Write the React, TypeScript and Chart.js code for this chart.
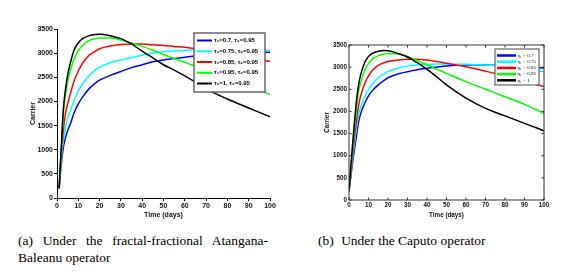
import React, { useEffect, useRef } from "react";
import { Chart, registerables } from "chart.js";

Chart.register(...registerables);

// ---------- Data: (a) fractal-fractional Atangana-Baleanu operator ----------
const abTimes = [1, 2, 3, 4, 5, 6, 8, 10, 12, 15, 18, 20, 25, 30, 35, 40, 45, 50, 55, 60, 65, 70, 80, 90, 100];
const abTau070 = [200, 700, 1050, 1250, 1400, 1500, 1760, 1950, 2090, 2260, 2380, 2440, 2540, 2620, 2700, 2760, 2820, 2860, 2890, 2915, 2940, 2955, 2985, 3005, 3020];
const abTau075 = [200, 800, 1200, 1450, 1650, 1780, 2020, 2220, 2360, 2530, 2650, 2710, 2800, 2860, 2910, 2960, 3000, 3030, 3045, 3055, 3064, 3068, 3070, 3065, 3060];
const abTau085 = [200, 900, 1400, 1750, 1950, 2120, 2420, 2630, 2790, 2950, 3040, 3090, 3150, 3180, 3190, 3190, 3175, 3160, 3140, 3120, 3090, 3050, 2980, 2900, 2830];
const abTau095 = [200, 1000, 1750, 2150, 2420, 2600, 2880, 3050, 3160, 3260, 3300, 3315, 3315, 3270, 3210, 3140, 3060, 2970, 2890, 2810, 2725, 2640, 2470, 2310, 2150];
const abTau100 = [200, 1050, 1850, 2250, 2550, 2750, 3060, 3210, 3300, 3360, 3385, 3390, 3360, 3300, 3190, 3040, 2900, 2760, 2650, 2530, 2400, 2260, 2050, 1865, 1680];
const abLabels = [
  "τ₁=0.7, τ₂=0.95",
  "τ₁=0.75, τ₂=0.95",
  "τ₁=0.85, τ₂=0.95",
  "τ₁=0.95, τ₂=0.95",
  "τ₁=1, τ₂=0.95",
];

// ---------- Data: (b) Caputo operator ----------
const cTimes = [0, 1, 2, 3, 4, 5, 6, 8, 10, 12, 15, 18, 20, 25, 30, 35, 40, 45, 50, 60, 70, 80, 90, 100];
const cEta070 = [200, 550, 900, 1200, 1500, 1780, 1950, 2180, 2350, 2470, 2600, 2700, 2760, 2845, 2897, 2940, 2973, 3000, 3025, 3048, 3048, 3030, 3005, 2980];
const cEta075 = [200, 600, 1000, 1350, 1680, 1950, 2100, 2330, 2500, 2620, 2760, 2850, 2900, 2975, 3025, 3050, 3063, 3070, 3071, 3063, 3048, 3010, 2960, 2900];
const cEta085 = [200, 650, 1100, 1500, 1850, 2150, 2350, 2630, 2800, 2930, 3040, 3100, 3125, 3160, 3180, 3180, 3161, 3125, 3086, 3010, 2910, 2800, 2680, 2560];
const cEta095 = [200, 750, 1250, 1700, 2120, 2470, 2650, 2920, 3080, 3180, 3260, 3295, 3305, 3300, 3240, 3150, 3048, 2955, 2860, 2672, 2500, 2333, 2160, 1957];
const cEta100 = [200, 800, 1350, 1850, 2300, 2620, 2830, 3100, 3240, 3310, 3360, 3375, 3370, 3310, 3230, 3100, 2950, 2780, 2600, 2300, 2070, 1900, 1730, 1565];
const cLabels = ["η₁ = 0.7", "η₁ = 0.75", "η₁ = 0.85", "η₁ = 0.95", "η₁ = 1"];

const seriesColors = ["#0000ff", "#00ffff", "#ff0000", "#00ff00", "#000000"];
const xMin = 0, xMax = 100, xStep = 10;
const yMin = 0, yMax = 3500, yStep = 500;
const xTitle = "Time (days)";
const yTitle = "Carrier";
const captionA1 = "(a) Under the fractal-fractional Atangana-";
const captionA2 = "Baleanu operator";
const captionB = "Under the Caputo operator";

const SANS = "'Liberation Sans', Arial, sans-serif";
const SERIF = "'Liberation Serif', 'DejaVu Serif', 'Times New Roman', serif";

const plainTick = (v: any) => String(v);

type LegendGeom = {
  x: number; y: number; w: number; h: number;
  firstRow: number; rowGap: number; lineX0: number; lineX1: number; textX: number;
  lineWidth: number; font: string; border: string; borderWidth: number;
};

function legendPlugin(g: LegendGeom) {
  return {
    id: "boxLegend",
    afterDatasetsDraw(chart: any) {
      const ctx = chart.ctx as CanvasRenderingContext2D;
      ctx.save();
      ctx.fillStyle = "#ffffff";
      ctx.fillRect(g.x, g.y, g.w, g.h);
      ctx.strokeStyle = g.border;
      ctx.lineWidth = g.borderWidth;
      ctx.strokeRect(g.x, g.y, g.w, g.h);
      chart.data.datasets.forEach((ds: any, i: number) => {
        const y = g.y + g.firstRow + i * g.rowGap;
        ctx.strokeStyle = ds.borderColor;
        ctx.lineWidth = g.lineWidth;
        ctx.beginPath();
        ctx.moveTo(g.x + g.lineX0, y);
        ctx.lineTo(g.x + g.lineX1, y);
        ctx.stroke();
        ctx.fillStyle = "#000";
        ctx.font = g.font;
        ctx.textBaseline = "middle";
        ctx.textAlign = "left";
        ctx.fillText(ds.label, g.x + g.textX, y);
      });
      ctx.restore();
    },
  };
}

const boxPlugin = {
  id: "matlabBox",
  afterDatasetsDraw(chart: any) {
    const ctx = chart.ctx as CanvasRenderingContext2D;
    const { left, right, top, bottom } = chart.chartArea;
    const xs = chart.scales.x;
    const ys = chart.scales.y;
    const tl = 2.5;
    ctx.save();
    ctx.strokeStyle = "#333";
    ctx.lineWidth = 1;
    ctx.strokeRect(left, top, right - left, bottom - top);
    ctx.beginPath();
    xs.ticks.forEach((t: any) => {
      const px = xs.getPixelForValue(t.value);
      ctx.moveTo(px, bottom); ctx.lineTo(px, bottom - tl);
      ctx.moveTo(px, top); ctx.lineTo(px, top + tl);
    });
    ys.ticks.forEach((t: any) => {
      const py = ys.getPixelForValue(t.value);
      ctx.moveTo(left, py); ctx.lineTo(left + tl, py);
      ctx.moveTo(right, py); ctx.lineTo(right - tl, py);
    });
    ctx.stroke();
    ctx.restore();
  },
};

function buildDatasets(times: number[], series: number[][], labels: string[], width: number) {
  return series.map((vals, i) => ({
    label: labels[i],
    data: times.map((t, k) => ({ x: t, y: vals[k] })),
    borderColor: seriesColors[i],
    backgroundColor: seriesColors[i],
    borderWidth: width,
    pointRadius: 0,
    cubicInterpolationMode: "monotone" as const,
    fill: false,
    order: series.length - i,
  }));
}

function ABChart() {
  const ref = useRef<HTMLCanvasElement | null>(null);
  useEffect(() => {
    if (!ref.current) return;
    const tickFont = { family: SANS, size: 7, weight: "bold" as const };
    const chart = new Chart(ref.current, {
      type: "line",
      data: {
        datasets: buildDatasets(abTimes, [abTau070, abTau075, abTau085, abTau095, abTau100], abLabels, 1.5),
      },
      options: {
        animation: false,
        responsive: false,
        devicePixelRatio: 1,
        layout: { padding: { left: 26, top: 29, right: 20, bottom: 0 } },
        plugins: { legend: { display: false }, tooltip: { enabled: false } },
        scales: {
          x: {
            type: "linear", min: xMin, max: xMax,
            ticks: { stepSize: xStep, font: tickFont, color: "#111", padding: 1, maxRotation: 0, autoSkip: false, callback: plainTick },
            grid: { drawOnChartArea: false, tickLength: 3, color: "#000" },
            border: { color: "#000", width: 1 },
            title: { display: true, text: xTitle, font: tickFont, color: "#111", padding: { top: 0, bottom: 9 } },
            afterFit: (s: any) => { s.height = 30; },
          },
          y: {
            type: "linear", min: yMin, max: yMax,
            ticks: { stepSize: yStep, font: tickFont, color: "#111", padding: 1, callback: plainTick },
            grid: { drawOnChartArea: false, tickLength: 3, color: "#000" },
            border: { color: "#000", width: 1 },
            title: { display: true, text: yTitle, font: tickFont, color: "#111", padding: { top: 3, bottom: 0 } },
            afterFit: (s: any) => { s.width = 31; },
          },
        },
      },
      plugins: [
        legendPlugin({
          x: 194, y: 33, w: 71, h: 59, firstRow: 7.5, rowGap: 10.75,
          lineX0: 3, lineX1: 18, textX: 20, lineWidth: 2,
          font: `bold 6px ${SANS}`, border: "#666", borderWidth: 1.5,
        }),
      ],
    } as any);
    return () => chart.destroy();
  }, []);
  return (
    <canvas ref={ref} width={290} height={228}
      style={{ position: "absolute", left: 0, top: 0, width: 290, height: 228 }} />
  );
}

function CaputoChart() {
  const ref = useRef<HTMLCanvasElement | null>(null);
  useEffect(() => {
    if (!ref.current) return;
    const tickFont = { family: SANS, size: 6.3, weight: "bold" as const };
    const chart = new Chart(ref.current, {
      type: "line",
      data: {
        datasets: buildDatasets(cTimes, [cEta070, cEta075, cEta085, cEta095, cEta100], cLabels, 1.5),
      },
      options: {
        animation: false,
        responsive: false,
        devicePixelRatio: 1,
        layout: { padding: { left: 30, top: 45, right: 31, bottom: 0 } },
        plugins: { legend: { display: false }, tooltip: { enabled: false } },
        scales: {
          x: {
            type: "linear", min: xMin, max: xMax,
            ticks: { stepSize: xStep, font: tickFont, color: "#111", padding: 1, maxRotation: 0, autoSkip: false, callback: plainTick },
            grid: { display: false, drawTicks: false, tickLength: 0 },
            border: { display: false },
            title: { display: true, text: xTitle, font: tickFont, color: "#111", padding: { top: 0, bottom: 9 } },
            afterFit: (s: any) => { s.height = 28; },
          },
          y: {
            type: "linear", min: yMin, max: yMax,
            ticks: { stepSize: yStep, font: tickFont, color: "#111", padding: 2, callback: plainTick },
            grid: { display: false, drawTicks: false, tickLength: 0 },
            border: { display: false },
            title: { display: true, text: yTitle, font: tickFont, color: "#111", padding: { top: 3.5, bottom: 0 } },
            afterFit: (s: any) => { s.width = 29; },
          },
        },
      },
      plugins: [
        boxPlugin,
        legendPlugin({
          x: 205, y: 49, w: 44, h: 36, firstRow: 6.5, rowGap: 6.2,
          lineX0: 2, lineX1: 21, textX: 22.5, lineWidth: 2.5,
          font: `5px ${SERIF}`, border: "#444", borderWidth: 1,
        }),
      ],
    } as any);
    return () => chart.destroy();
  }, []);
  return (
    <canvas ref={ref} width={285} height={228}
      style={{ position: "absolute", left: 290, top: 0, width: 285, height: 228 }} />
  );
}

export default function App() {
  const capStyle: React.CSSProperties = {
    position: "absolute",
    fontFamily: SERIF,
    fontSize: 13.5,
    lineHeight: "17px",
    color: "#000",
    whiteSpace: "nowrap",
  };
  return (
    <div style={{ position: "absolute", left: 0, top: 0, width: 575, height: 276, background: "#fff", overflow: "hidden" }}>
      <ABChart />
      <CaputoChart />
      <div style={{ ...capStyle, left: 18, top: 232, width: 250, textAlign: "justify", textAlignLast: "justify" as any, whiteSpace: "normal" }}>
        {captionA1}
      </div>
      <div style={{ ...capStyle, left: 18, top: 249 }}>{captionA2}</div>
      <div style={{ ...capStyle, left: 318, top: 232 }}>
        <span style={{ marginRight: 4 }}>(b)</span> {captionB}
      </div>
    </div>
  );
}
